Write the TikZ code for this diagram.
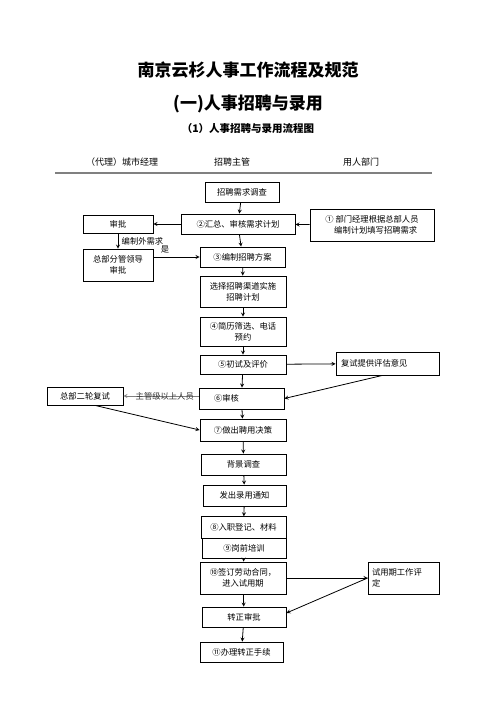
\documentclass[tikz,border=0pt]{standalone}
\usepackage{fontspec}
\usepackage{tikz}
\setmainfont{Noto Sans CJK SC}
\definecolor{rule}{HTML}{808080}

\begin{document}
\begin{tikzpicture}[x=1pt,y=-1pt,>=stealth,font=\fontsize{8.3}{11}\selectfont,
  box/.style={draw,line width=0.8pt,inner sep=2pt,align=center},
  flow/.style={->,line width=0.8pt},
  lab/.style={font=\fontsize{8.3}{10}\selectfont}]
  \useasboundingbox (0,0) rectangle (496,702);
  % titles
  \node (title) at (248,70) {\fontsize{17}{20}\selectfont\bfseries 南京云杉人事工作流程及规范};
  \node (sub) at (248,104) {\fontsize{17}{20}\selectfont\bfseries (一)人事招聘与录用};
  \node (subsub) at (248,129) {\fontsize{10.5}{12}\selectfont\bfseries （1）人事招聘与录用流程图};
  % column heads
  \node[font=\fontsize{9}{11}\selectfont] (mgr) at (122,162) {（代理）城市经理};
  \node[font=\fontsize{9}{11}\selectfont] (hr) at (232,162) {招聘主管};
  \node[font=\fontsize{9}{11}\selectfont] (dept) at (361,162) {用人部门};
  \coordinate (ruleL) at (55,173);
  \coordinate (ruleR) at (432,173);
  \draw[rule,line width=1.2pt] (ruleL) -- (ruleR);
  % boxes
  \node[box,minimum width=74pt,minimum height=20pt] (need) at (242,192) {招聘需求调查};
  \node[box,minimum width=114pt,minimum height=20pt] (sum) at (238,224) {②汇总、审核需求计划};
  \node[box,minimum width=70pt,minimum height=18pt] (approve) at (118,224) {审批};
  \node[box,minimum width=70pt,minimum height=32pt] (hq) at (118,265) {总部分管领导\\审批};
  \node[box,minimum width=85pt,minimum height=20pt] (plan) at (242.5,257) {③编制招聘方案};
  \node[box,minimum width=124pt,minimum height=32pt] (deptreq) at (372,225) {①\ 部门经理根据总部人员\\\ \ \ \ 编制计划填写招聘需求};
  \node[box,minimum width=86pt,minimum height=31pt] (channel) at (243,291.5) {选择招聘渠道实施\\招聘计划};
  \node[box,minimum width=86pt,minimum height=29pt] (screen) at (243,331.5) {④简历筛选、电话\\预约};
  \node[box,minimum width=86pt,minimum height=19pt] (interview) at (243,364.5) {⑤初试及评价};
  \node[box,minimum width=85pt,minimum height=21pt,text width=75pt,align=left] (review) at (241.5,398.5) {\hspace{10pt}⑥审核};
  \node[box,minimum width=76pt,minimum height=18pt] (second) at (85,396) {总部二轮复试};
  \node[box,minimum width=86pt,minimum height=22pt] (decide) at (243,430) {⑦做出聘用决策};
  \node[box,minimum width=103pt,minimum height=23pt,text width=93pt,align=left] (feedback) at (387.5,363.5) {复试提供评估意见};
  \node[box,minimum width=85pt,minimum height=21pt] (bg) at (243.5,464.5) {背景调查};
  \node[box,minimum width=83pt,minimum height=21pt] (offer) at (244.5,495.5) {发出录用通知};
  \node[box,minimum width=85pt,minimum height=21.5pt] (entry) at (243.5,527.5) {⑧入职登记、材料};
  \node[box,minimum width=84pt,minimum height=20pt] (train) at (244,548) {⑨岗前培训};
  \node[box,minimum width=86pt,minimum height=32pt] (contract) at (243,578) {⑩签订劳动合同，\\进入试用期};
  \node[box,minimum width=71pt,minimum height=32pt,text width=63pt,align=left] (trial) at (403.5,578) {试用期工作评\\定};
  \node[box,minimum width=84pt,minimum height=20pt] (regular) at (244,617) {转正审批};
  \node[box,minimum width=83pt,minimum height=20pt] (finish) at (241.5,652) {⑪办理转正手续};
  % connectors
  \draw[flow] (need) -- (sum);
  \draw[flow] (sum) -- (approve);
  \draw[flow] (deptreq) -- (sum);
  \draw[flow] (approve) -- node[right,lab]{编制外需求} (hq);
  \draw[flow] (hq.east |- plan) -- node[above,lab,pos=0.25]{是} (plan);
  \draw[flow] (sum) -- (plan);
  \draw[flow] (plan) -- (channel);
  \draw[flow] (channel) -- (screen);
  \draw[flow] (screen) -- (interview);
  \draw[flow] (interview) -- (review);
  \draw[flow] (interview) -- (feedback);
  \draw[flow] ([xshift=-5pt]feedback.south) -- (review.east);
  \draw[flow,rule] (review.west |- second) -- node[lab,black!80,pos=0.45]{主管级以上人员} (second);
  \draw[flow] ([xshift=10pt]second.south) -- (decide.west);
  \draw[flow] (review) -- (decide);
  \draw[flow] (decide) -- (bg);
  \draw[flow] (bg) -- (offer);
  \draw[flow] (offer) -- (entry);
  \draw[flow] (train) -- (contract);
  \draw[flow] (contract) -- (trial);
  \draw[flow] (trial.west) -- ([yshift=4pt]regular.east);
  \draw[flow] (contract) -- (regular);
  \draw[flow] (regular) -- (finish);
\end{tikzpicture}
\end{document}
